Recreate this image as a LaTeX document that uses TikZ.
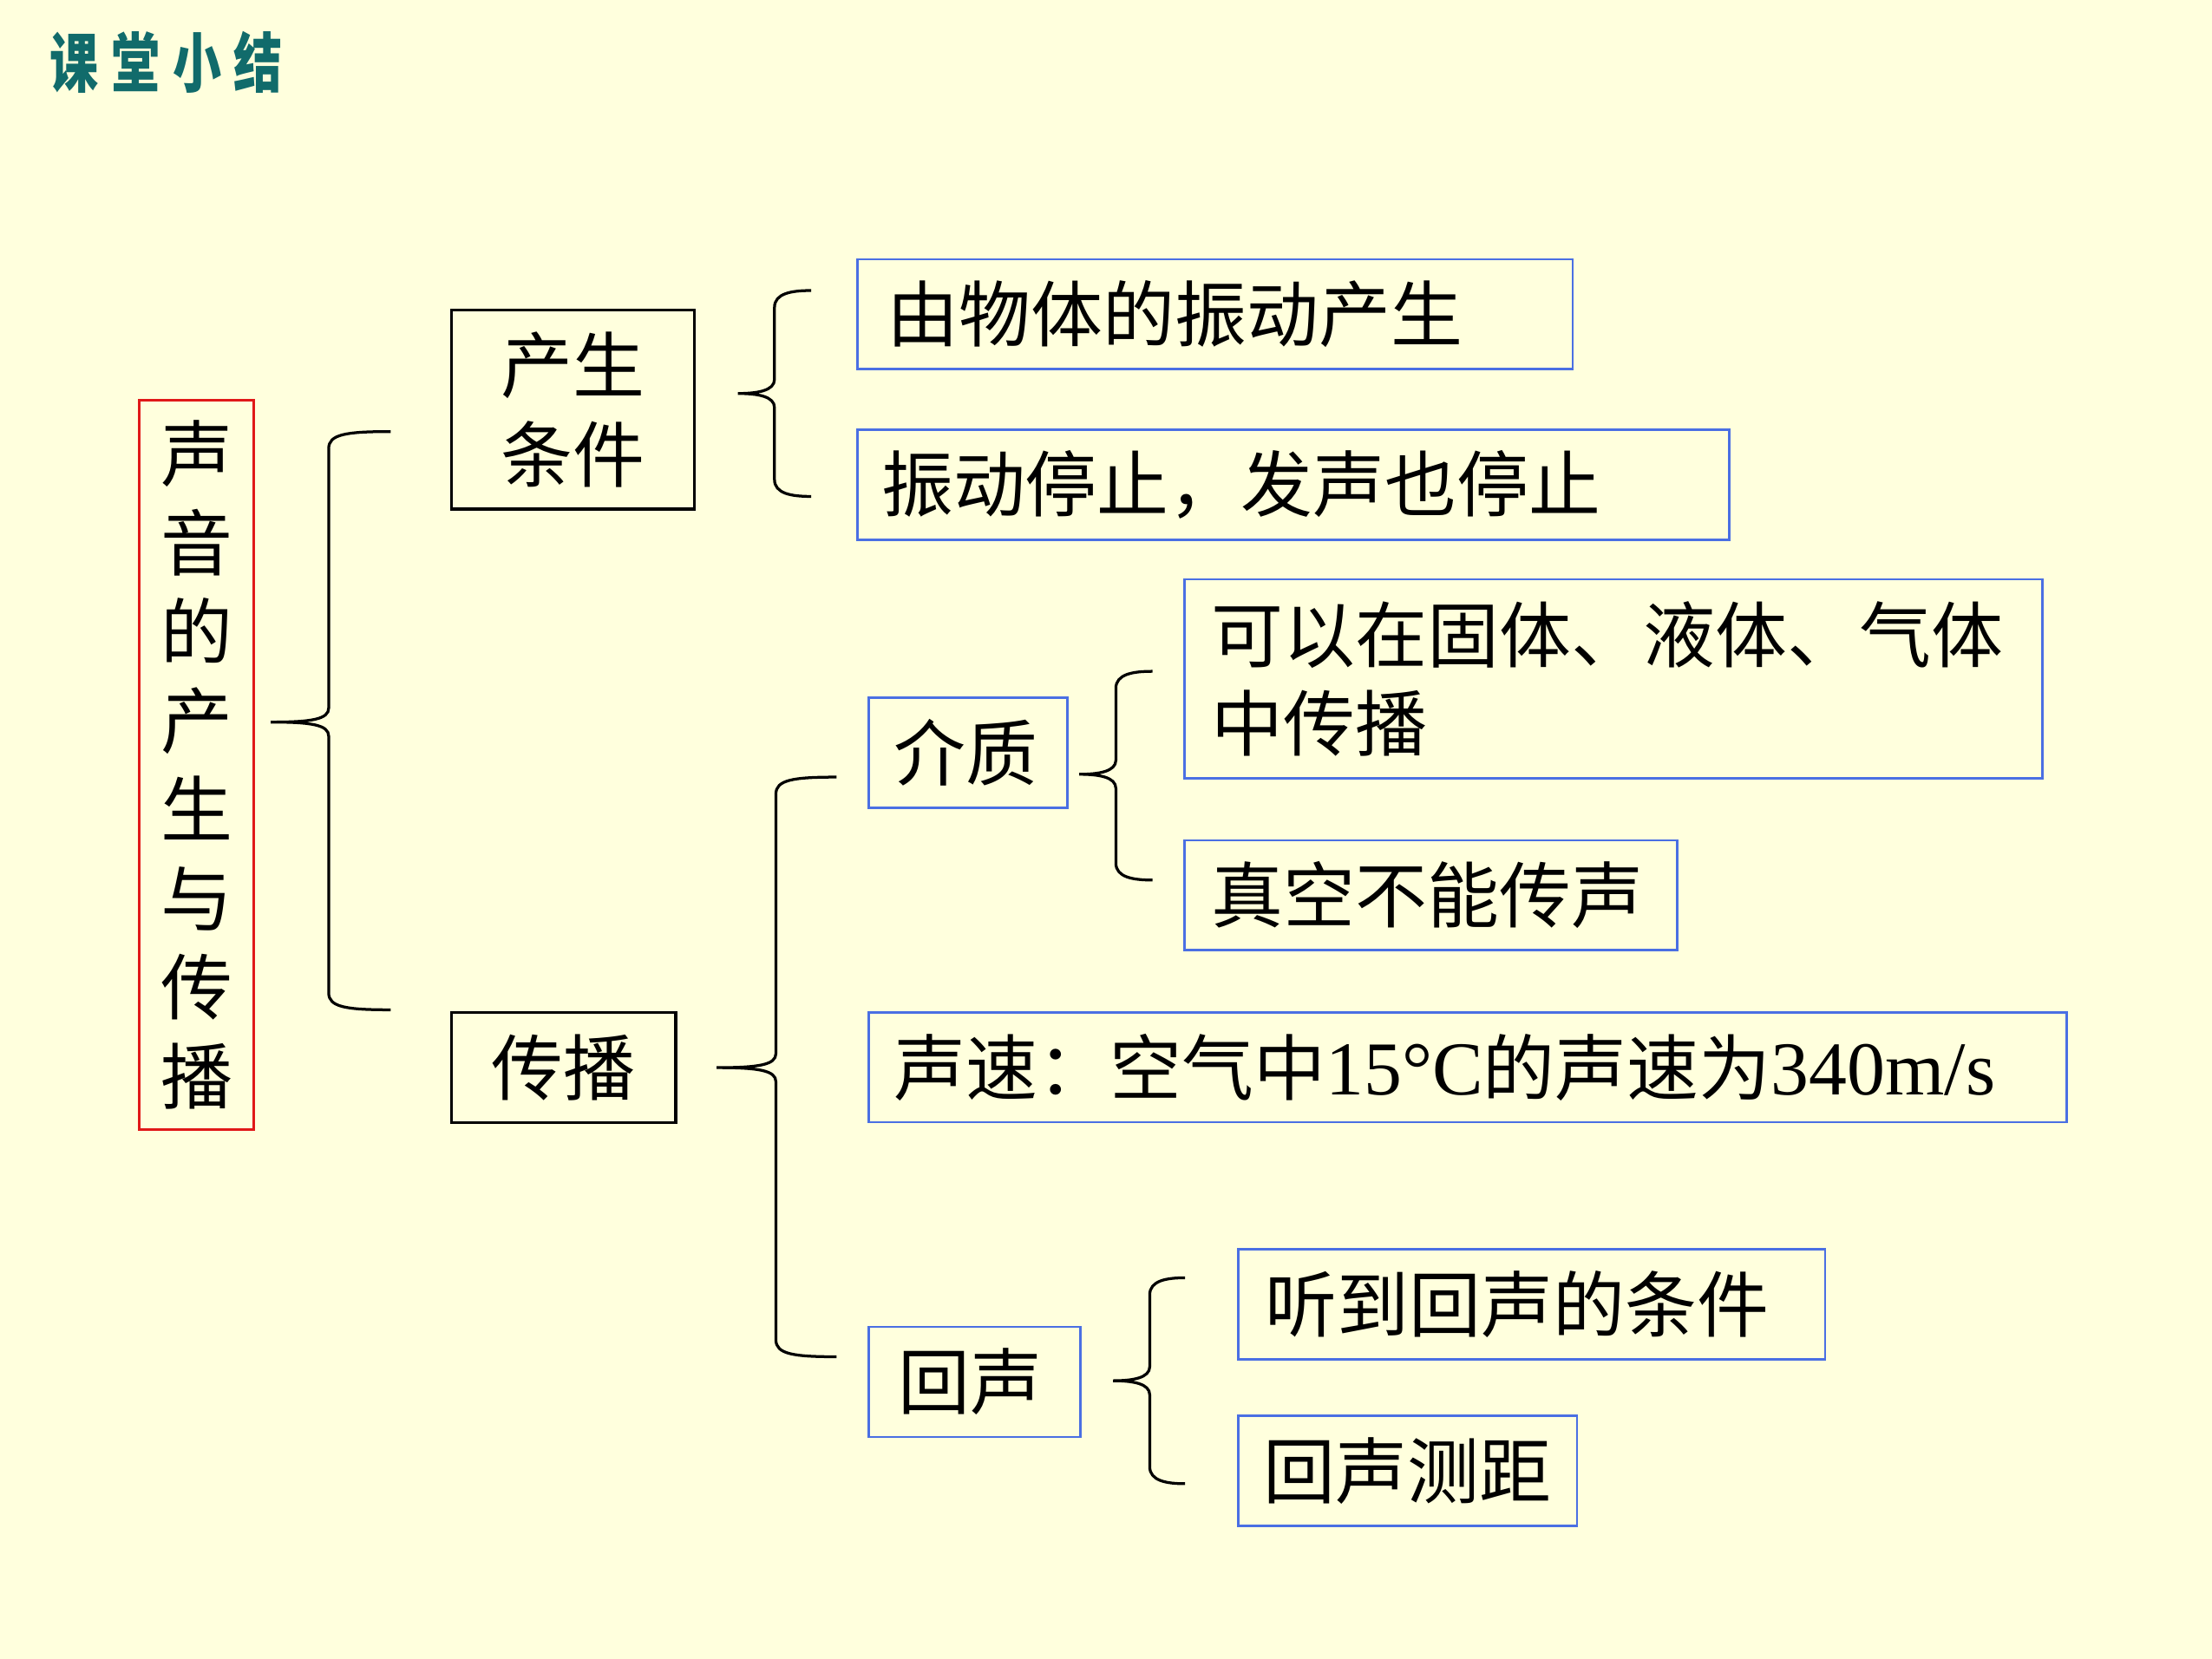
\documentclass[tikz,border=0pt]{standalone}
\usepackage{fontspec}
\setmainfont{Liberation Serif}
\newfontfamily\cjk{Noto Sans CJK SC}
\definecolor{bg}{HTML}{FFFFDD}
\definecolor{myblue}{HTML}{4A6FE3}
\definecolor{myred}{HTML}{E01818}
\definecolor{titlecol}{HTML}{116B6B}
\newcommand\drawbrace[6]{% tipx, midy, vertx, endx, topy, boty
  \draw[bracestyle] (#4,#5) .. controls (#3+12,#5) and (#3,#5+2) .. (#3,#5+12)
    -- (#3,#2-10) .. controls (#3,#2-2) and (#3-12,#2) .. (#1,#2)
    .. controls (#3-12,#2) and (#3,#2+2) .. (#3,#2+10)
    -- (#3,#6-12) .. controls (#3,#6-2) and (#3+12,#6) .. (#4,#6);}
\newcommand\lat[1]{{\rmfamily\fontsize{27}{31.5}\selectfont #1}}
\begin{document}
\begin{tikzpicture}[x=0.5pt,y=-0.5pt,
  base/.style={anchor=north west, inner ysep=0pt, font=\cjk\fontsize{25.5}{31.5}\selectfont, align=left},
  bluebox/.style={base, draw=myblue, line width=0.8pt},
  blackbox/.style={base, draw=black, line width=1pt, align=center},
  bracestyle/.style={black, line width=1pt}]
\fill[bg] (0,0) rectangle (1568,1176);
\useasboundingbox (0,0) rectangle (1568,1176);
% title
\node[anchor=west, inner sep=0pt, text=titlecol, font=\cjk\bfseries\fontsize{23}{23}\selectfont] (title) at (35,44)
  {\scalebox{0.75}[1]{课\hspace{6pt}堂\hspace{6pt}小\hspace{6pt}结}};
% root
\node[draw=myred, line width=0.8pt, anchor=north west, minimum width=40.5pt, minimum height=258.5pt,
  inner sep=0pt, align=center, font=\cjk\fontsize{25.5}{31.5}\selectfont] (root) at (98,283)
  {声\\音\\的\\产\\生\\与\\传\\播};
% level 1
\node[blackbox, minimum width=86pt, minimum height=70.5pt, inner xsep=0pt] (cond) at (319,219) {产生\\条件};
\node[blackbox, minimum width=79.5pt, minimum height=39pt, inner xsep=0pt] (prop) at (319,717) {传播};
% level 2 (production)
\node[bluebox, text width=232.5pt, inner xsep=10.5pt, minimum height=39pt] (vib) at (607,183) {由物体的振动产生};
\node[bluebox, text width=292pt, inner xsep=8.5pt, minimum height=39pt] (stop) at (607,304) {振动停止，发声也停止};
% level 2 (propagation)
\node[bluebox, text width=52.5pt, inner xsep=9pt, minimum height=39pt] (medium) at (615,494) {介质};
\node[bluebox, text width=406.5pt, inner xsep=9pt, minimum height=39pt] (speed) at (615,717)
  {声速：空气中\lat{15°C}的声速为\lat{340m/s}};
\node[bluebox, text width=54pt, inner xsep=10.5pt, minimum height=39pt] (echo) at (615,940) {回声};
% level 3
\node[bluebox, text width=285pt, inner xsep=9.5pt, minimum height=70.5pt] (media) at (839,410) {可以在固体、液体、气体\\中传播};
\node[bluebox, text width=155.5pt, inner xsep=9.5pt, minimum height=39pt] (vacuum) at (839,595) {真空不能传声};
\node[bluebox, text width=189pt, inner xsep=9.5pt, minimum height=39pt] (hear) at (877,885) {听到回声的条件};
\node[bluebox, text width=102pt, inner xsep=9pt, minimum height=39pt] (range) at (877,1003) {回声测距};
% braces
\drawbrace{192}{512}{233}{277}{306}{716}
\drawbrace{523}{279}{549}{575}{206}{352}
\drawbrace{508}{757}{550}{593}{551}{962}
\drawbrace{765}{549}{791}{817}{476}{624}
\drawbrace{789}{979}{815}{840}{906}{1052}
\end{tikzpicture}
\end{document}
